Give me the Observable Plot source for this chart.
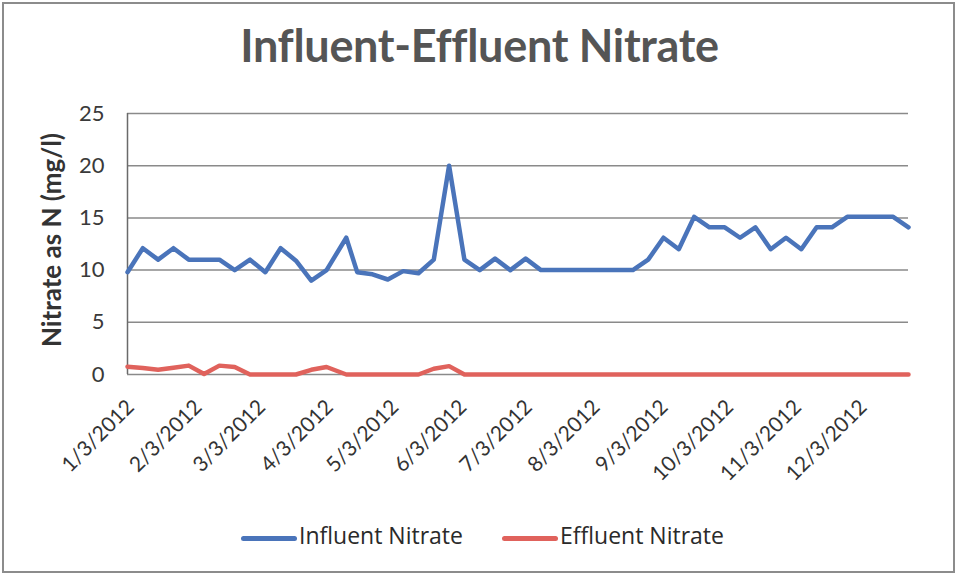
<!DOCTYPE html>
<html>
<head>
<meta charset="utf-8">
<script src="https://cdn.jsdelivr.net/npm/d3@7"></script>
<script src="https://cdn.jsdelivr.net/npm/@observablehq/plot@0.6"></script>
<style>
  body { margin: 0; background: #fff; }
  #wrap { position: relative; width: 959px; height: 577px; overflow: hidden; font-family: Lato, "Open Sans", sans-serif; background: #fff; }
  #frame { position: absolute; left: 2px; top: 2px; width: 953px; height: 571px; border: 2px solid #8c8c8c; box-sizing: border-box; pointer-events: none; }
  #chart { position: absolute; left: 0; top: 0; }
  #title { position: absolute; left: 0; top: 18px; width: 959px; text-align: center; font-size: 45px; font-weight: 700; color: #555; letter-spacing: -0.3px; }
  .lg { position: absolute; top: 519px; font-family: "Open Sans", Lato, sans-serif; font-size: 23px; color: #2a2a2a; white-space: nowrap; }
  .sw { position: absolute; height: 5px; border-radius: 2.5px; top: 536px; }
</style>
</head>
<body>
<div id="wrap">
  <div id="chart"></div>
  <div id="title">Influent-Effluent Nitrate</div>
  <div class="sw" style="left:241px;width:56px;background:#4a74ba"></div>
  <div class="lg" style="left:299px">Influent Nitrate</div>
  <div class="sw" style="left:502px;width:56px;background:#e0625c"></div>
  <div class="lg" style="left:560px">Effluent Nitrate</div>
  <div id="frame"></div>
</div>
<script>
const dates = ["2012-01-03","2012-01-10","2012-01-17","2012-01-24","2012-01-31","2012-02-07","2012-02-14","2012-02-21","2012-02-28","2012-03-06","2012-03-13","2012-03-20","2012-03-27","2012-04-03","2012-04-12","2012-04-17","2012-04-24","2012-05-01","2012-05-08","2012-05-15","2012-05-22","2012-05-29","2012-06-05","2012-06-12","2012-06-19","2012-06-26","2012-07-03","2012-07-10","2012-07-17","2012-07-24","2012-07-31","2012-08-07","2012-08-14","2012-08-21","2012-08-28","2012-09-04","2012-09-11","2012-09-18","2012-09-25","2012-10-02","2012-10-09","2012-10-16","2012-10-23","2012-10-30","2012-11-06","2012-11-13","2012-11-20","2012-11-27","2012-12-04","2012-12-11","2012-12-18","2012-12-25"];
const influent = [9.8,12.1,11,12.1,11,11,11,10,11,9.8,12.1,10.9,9,10,13.1,9.8,9.6,9.1,9.9,9.7,11,20,11,10,11.1,10,11.1,10,10,10,10,10,10,10,11,13.1,12,15.1,14.1,14.1,13.1,14.1,12,13.1,12,14.1,14.1,15.1,15.1,15.1,15.1,14.1];
const effluent = [0.75,0.62,0.45,0.65,0.85,0.05,0.85,0.72,0,0,0,0,0.45,0.72,0,0,0,0,0,0,0.55,0.8,0,0,0,0,0,0,0,0,0,0,0,0,0,0,0,0,0,0,0,0,0,0,0,0,0,0,0,0,0,0];
const xTickLabels = ["1/3/2012","2/3/2012","3/3/2012","4/3/2012","5/3/2012","6/3/2012","7/3/2012","8/3/2012","9/3/2012","10/3/2012","11/3/2012","12/3/2012"];
const yTicks = [0,5,10,15,20,25];
const seriesNames = ["Influent Nitrate","Effluent Nitrate"];
const colors = ["#4a74ba","#e0625c"];

const parseLabel = s => { const [m,d,y] = s.split("/").map(Number); return new Date(Date.UTC(y, m-1, d)); };
const xTicks = xTickLabels.map(parseLabel);
const fmt = d => `${d.getUTCMonth()+1}/${d.getUTCDate()}/${d.getUTCFullYear()}`;

const rows = [];
dates.forEach((d,i) => {
  rows.push({date: new Date(d), value: influent[i], series: seriesNames[0]});
  rows.push({date: new Date(d), value: effluent[i], series: seriesNames[1]});
});
const x0 = new Date(dates[0]), x1 = new Date(dates[dates.length-1]);

const chart = Plot.plot({
  width: 959,
  height: 577,
  marginLeft: 127,
  marginRight: 51,
  marginTop: 113,
  marginBottom: 203,
  style: { fontFamily: "Lato, 'Open Sans', sans-serif", background: "transparent", overflow: "visible" },
  x: { type: "utc", domain: [x0, x1] },
  y: { domain: [0, 25] },
  color: { domain: seriesNames, range: colors },
  marks: [
    Plot.gridY(yTicks, { stroke: "#8a8a8a", strokeOpacity: 1, strokeWidth: 1.5 }),
    Plot.ruleX([x0], { stroke: "#6a6a6a", strokeWidth: 1.5 }),
    Plot.axisY(yTicks, { tickSize: 0, tickPadding: 23, fontSize: 22, fill: "#3a3a3a", label: null }),
    Plot.text(["Nitrate as N (mg/l)"], { frameAnchor: "left", textAnchor: "middle", rotate: -90, dx: -75, dy: -4, fontSize: 26, fontWeight: 700, fill: "#333" }),
    Plot.axisX(xTicks, { tickSize: 0, tickPadding: 29, dx: 3, tickRotate: -45, tickFormat: fmt, fontSize: 21, fill: "#333", label: null }),
    Plot.lineY(rows.filter(r => r.series === seriesNames[1]), { x: "date", y: "value", stroke: "series", strokeWidth: 4.5, strokeLinejoin: "round" }),
    Plot.lineY(rows.filter(r => r.series === seriesNames[0]), { x: "date", y: "value", stroke: "series", strokeWidth: 4.5, strokeLinejoin: "round" })
  ]
});
document.getElementById("chart").appendChild(chart);
</script>
</body>
</html>
